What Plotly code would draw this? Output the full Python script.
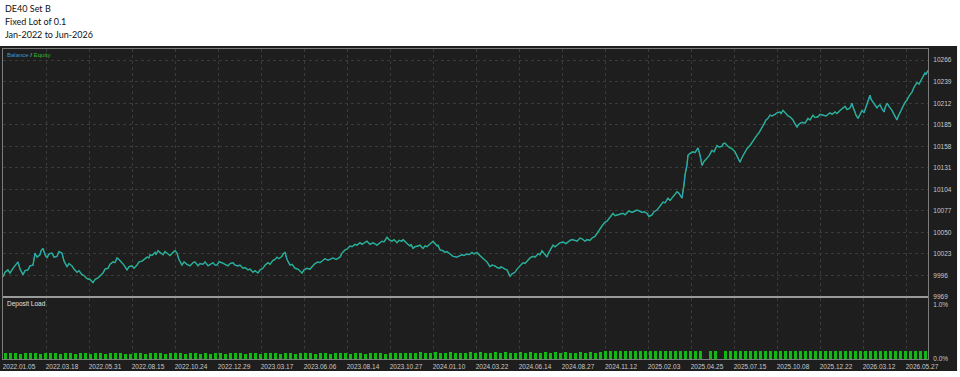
import plotly.graph_objects as go

# ---------------- data ----------------
title_lines = ["DE40 Set B", "Fixed Lot of 0.1", "Jan-2022 to Jun-2026"]

date_labels = ["2022.01.05", "2022.03.18", "2022.05.31", "2022.08.15", "2022.10.24",
               "2022.12.29", "2023.03.17", "2023.06.06", "2023.08.14", "2023.10.27",
               "2024.01.10", "2024.03.22", "2024.06.14", "2024.08.27", "2024.11.12",
               "2025.02.03", "2025.04.25", "2025.07.15", "2025.10.08", "2025.12.22",
               "2026.03.12", "2026.05.27"]
deals_per_label = 43
total_deals = 925

# (deal number, balance)
balance_by_deal = [
    (0, 9994), (2, 10000), (5, 10003), (7, 9999), (10, 10005), (12, 10008), (15, 10013), (17, 10004), (20, 9997), (22, 10002),
    (25, 10003), (27, 10008), (30, 10009), (32, 10024), (34, 10019), (37, 10022), (38, 10027), (40, 10030), (42, 10022), (44, 10018),
    (46, 10023), (49, 10024), (51, 10019), (54, 10020), (56, 10026), (59, 10024), (61, 10014), (64, 10007), (66, 10011), (69, 10008),
    (71, 10004), (74, 10000), (76, 10002), (79, 9997), (81, 9996), (84, 9992), (87, 9991), (90, 9987), (92, 9991), (95, 9993),
    (97, 9995), (100, 9999), (102, 10004), (105, 10005), (107, 10010), (110, 10013), (112, 10012), (114, 10018), (116, 10016), (119, 10012),
    (121, 10009), (124, 10003), (126, 10007), (129, 10008), (131, 10005), (134, 10009), (136, 10013), (139, 10014), (141, 10016), (144, 10019),
    (146, 10018), (147, 10022), (149, 10021), (152, 10025), (153, 10022), (155, 10027), (157, 10025), (160, 10022), (162, 10026), (165, 10023),
    (167, 10021), (170, 10025), (172, 10027), (174, 10024), (176, 10016), (179, 10009), (181, 10013), (184, 10010), (187, 10008), (190, 10012),
    (192, 10013), (195, 10008), (197, 10011), (200, 10010), (202, 10013), (205, 10008), (207, 10010), (210, 10012), (212, 10009), (214, 10009),
    (216, 10013), (219, 10012), (222, 10010), (225, 10008), (227, 10011), (230, 10012), (232, 10009), (235, 10008), (237, 10009), (240, 10005),
    (242, 10006), (245, 10003), (247, 10004), (250, 10000), (252, 10002), (255, 9999), (257, 10003), (260, 10005), (262, 10009), (265, 10012),
    (267, 10010), (270, 10015), (272, 10016), (274, 10019), (276, 10017), (279, 10020), (280, 10023), (282, 10025), (284, 10016), (287, 10009),
    (289, 10010), (292, 10005), (295, 10004), (299, 9999), (301, 10003), (304, 10005), (307, 10004), (310, 10008), (312, 10011), (315, 10013),
    (317, 10012), (320, 10015), (322, 10017), (325, 10015), (327, 10016), (330, 10018), (333, 10016), (337, 10019), (339, 10024), (342, 10028),
    (344, 10029), (347, 10033), (349, 10032), (352, 10035), (354, 10034), (357, 10037), (359, 10035), (362, 10038), (364, 10039), (367, 10035),
    (370, 10037), (374, 10034), (376, 10036), (379, 10039), (381, 10038), (384, 10044), (386, 10041), (389, 10039), (391, 10041), (394, 10037),
    (396, 10040), (399, 10039), (400, 10041), (402, 10038), (404, 10036), (407, 10033), (408, 10035), (410, 10030), (412, 10032), (415, 10033),
    (417, 10034), (420, 10030), (422, 10033), (424, 10032), (427, 10036), (430, 10039), (432, 10036), (434, 10033), (435, 10034), (437, 10028),
    (440, 10027), (442, 10025), (444, 10026), (447, 10023), (450, 10020), (454, 10019), (456, 10020), (459, 10022), (461, 10021), (464, 10023),
    (466, 10022), (469, 10025), (471, 10023), (474, 10025), (476, 10022), (479, 10019), (481, 10016), (484, 10013), (485, 10011), (487, 10007),
    (489, 10009), (492, 10008), (494, 10006), (497, 10005), (498, 10007), (500, 10005), (502, 10004), (504, 10003), (505, 10000), (507, 9995),
    (509, 9998), (512, 10000), (514, 10004), (517, 10008), (518, 10009), (520, 10012), (522, 10011), (525, 10015), (527, 10018), (530, 10020),
    (532, 10019), (535, 10023), (537, 10022), (539, 10027), (541, 10024), (544, 10019), (545, 10023), (547, 10028), (548, 10031), (550, 10034),
    (552, 10032), (555, 10035), (557, 10037), (560, 10038), (563, 10036), (567, 10040), (569, 10041), (572, 10040), (574, 10039), (577, 10043),
    (579, 10042), (582, 10039), (584, 10041), (587, 10040), (589, 10043), (592, 10045), (594, 10049), (597, 10055), (599, 10058), (602, 10063),
    (604, 10064), (607, 10069), (608, 10071), (610, 10074), (612, 10071), (615, 10072), (617, 10073), (620, 10074), (622, 10072), (624, 10075),
    (626, 10077), (629, 10075), (631, 10076), (634, 10078), (636, 10077), (639, 10075), (641, 10076), (644, 10074), (646, 10070), (649, 10072),
    (651, 10076), (654, 10078), (657, 10083), (660, 10088), (662, 10087), (665, 10093), (667, 10090), (670, 10095), (672, 10098), (674, 10101),
    (676, 10099), (677, 10097), (679, 10093), (681, 10110), (682, 10122), (684, 10135), (685, 10147), (687, 10149), (690, 10151), (692, 10150),
    (695, 10156), (697, 10147), (699, 10134), (701, 10139), (704, 10143), (706, 10146), (709, 10153), (711, 10151), (714, 10159), (716, 10157),
    (719, 10158), (720, 10161), (722, 10162), (724, 10159), (727, 10156), (729, 10155), (732, 10151), (734, 10146), (737, 10138), (739, 10144),
    (742, 10151), (744, 10155), (747, 10159), (750, 10165), (754, 10172), (756, 10175), (759, 10181), (761, 10186), (763, 10191), (765, 10193),
    (767, 10197), (769, 10196), (772, 10198), (774, 10200), (777, 10201), (778, 10199), (780, 10203), (782, 10200), (785, 10196), (787, 10195),
    (790, 10191), (792, 10186), (794, 10182), (796, 10186), (799, 10188), (802, 10187), (805, 10193), (807, 10191), (810, 10197), (812, 10194),
    (815, 10195), (817, 10198), (820, 10197), (823, 10196), (827, 10200), (829, 10198), (832, 10201), (834, 10199), (837, 10203), (839, 10205),
    (842, 10208), (844, 10204), (847, 10206), (849, 10212), (850, 10207), (852, 10201), (853, 10197), (855, 10193), (857, 10199), (859, 10203),
    (861, 10200), (863, 10208), (865, 10214), (867, 10222), (868, 10217), (870, 10213), (872, 10209), (874, 10206), (875, 10208), (877, 10210),
    (879, 10205), (881, 10201), (882, 10206), (884, 10212), (886, 10208), (889, 10203), (891, 10198), (894, 10191), (895, 10195), (897, 10200),
    (899, 10206), (901, 10210), (902, 10213), (904, 10216), (906, 10221), (909, 10226), (911, 10232), (914, 10238), (916, 10236), (919, 10243),
    (920, 10246), (922, 10250), (923, 10248), (925, 10253),
]
deal_no = [d for d, _ in balance_by_deal]
balance = [v for _, v in balance_by_deal]
equity = list(balance)  # equity is indistinguishable from balance at this scale

deposit_load = [
    0.11, 0.12, 0.11, 0.10, 0.12, 0.11, 0.12, 0.10, 0.11, 0.12, 0.11, 0.10, 0.12, 0.11, 0.09, 0.11, 0.12, 0.10, 0.11, 0.12,
    0.10, 0.11, 0.12, 0.11, 0.10, 0.09, 0.11, 0.12, 0.10, 0.11, 0.12, 0.11, 0.10, 0.11, 0.12, 0.11, 0.10, 0.12, 0.11, 0.10,
    0.11, 0.10, 0.12, 0.11, 0.10, 0.11, 0.12, 0.11, 0.10, 0.11, 0.12, 0.10, 0.11, 0.12, 0.11, 0.10, 0.11, 0.12, 0.10, 0.11,
    0.12, 0.11, 0.10, 0.12, 0.11, 0.10, 0.11, 0.12, 0.11, 0.10, 0.11, 0.12, 0.10, 0.11, 0.12, 0.11, 0.10, 0.11, 0.12, 0.11,
    0.12, 0.11, 0.12, 0.13, 0.12, 0.11, 0.13, 0.12, 0.12, 0.13, 0.12, 0.11, 0.12, 0.13, 0.12, 0.13, 0.12, 0.11, 0.13, 0.12,
    0.13, 0.12, 0.12, 0.13, 0.12, 0.13, 0.12, 0.12, 0.13, 0.12, 0.13, 0.12, 0.13, 0.12, 0.12, 0.13, 0.12, 0.13, 0.12, 0.13,
    0.14, 0.15, 0.14, 0.15, 0.14, 0.15, 0.15, 0.14, 0.15, 0.14, 0.15, 0.14, 0.15, 0.15, 0.14, 0.15, 0.14, 0.15, 0.14, 0.15,
    0.00, 0.15, 0.14, 0.00, 0.15, 0.14, 0.15, 0.15, 0.14, 0.15, 0.14, 0.15, 0.15, 0.14, 0.15, 0.14, 0.15, 0.14, 0.15, 0.15,
    0.15, 0.14, 0.15, 0.15, 0.14, 0.15, 0.14, 0.15, 0.15, 0.14, 0.15, 0.14, 0.15, 0.15, 0.14, 0.15, 0.14, 0.15, 0.15, 0.14,
    0.15, 0.14, 0.15, 0.14, 0.15]

y_ticks_main = [9969, 9996, 10023, 10050, 10077, 10104, 10131, 10158, 10185, 10212, 10239, 10266]
y_range_main = [9969, 10280]
load_ticks = [0.0, 1.0]
load_ticktext = ["0.0%", "1.0%"]
load_range = [0, 1.12]

# ---------------- styling ----------------
BG = "#1e1e1e"
GRID = "#3a3a3a"
FRAME = "#7c7c7c"
TXT = "#c8c8c8"
BAL_C = "#3399dd"
EQ_C = "#1fbf4f"
BAR_C = "#12b812"
FONT = "Liberation Sans"

bin_w = total_deals / len(deposit_load)
bar_x = [(i + 0.5) * bin_w for i in range(len(deposit_load))]
tick_pos = [i * deals_per_label for i in range(len(date_labels))]

fig = go.Figure()
fig.add_trace(go.Scatter(x=deal_no, y=equity, mode="lines", line=dict(color=EQ_C, width=1.4),
                         xaxis="x", yaxis="y", showlegend=False, hoverinfo="skip"))
fig.add_trace(go.Scatter(x=deal_no, y=balance, mode="lines", line=dict(color=BAL_C, width=0.9),
                         xaxis="x", yaxis="y", showlegend=False))
fig.add_trace(go.Bar(x=bar_x, y=deposit_load, marker=dict(color=BAR_C, line=dict(width=0)),
                     width=bin_w * 0.72, xaxis="x2", yaxis="y2", showlegend=False))

axis_common = dict(showline=True, mirror=True, linecolor=FRAME, linewidth=1, zeroline=False,
                   ticks="", gridcolor=GRID, griddash="dot", gridwidth=1)

fig.update_layout(
    width=960, height=377,
    margin=dict(l=3, r=32, t=49, b=18, pad=0),
    paper_bgcolor="white", plot_bgcolor=BG,
    font=dict(family=FONT, size=7, color=TXT),
    bargap=0,
    xaxis=dict(domain=[0, 1], range=[0, total_deals], anchor="y", tickvals=tick_pos,
               showticklabels=False, showgrid=True, **axis_common),
    yaxis=dict(domain=[0.2, 1], range=y_range_main, side="right", anchor="x", tickvals=y_ticks_main,
               tickformat="d", tickfont=dict(size=6.5, color=TXT, family=FONT), ticklabelstandoff=3,
               showgrid=True, **axis_common),
    xaxis2=dict(domain=[0, 1], range=[0, total_deals], anchor="y2", matches="x", tickvals=tick_pos,
                ticktext=date_labels, tickfont=dict(size=6.5, color=TXT, family=FONT),
                ticklabelshift=16, ticklabelstandoff=1, showgrid=True, **axis_common),
    yaxis2=dict(domain=[0, 0.197], range=load_range, side="right", anchor="x2", tickvals=load_ticks,
                ticktext=load_ticktext, tickfont=dict(size=6.5, color=TXT, family=FONT),
                ticklabelstandoff=3, showgrid=False, **axis_common),
)

# dark chart body behind everything
fig.add_shape(type="rect", xref="paper", yref="paper", x0=-0.0033, x1=1.0314, y0=-0.0387, y1=1.0097,
              fillcolor=BG, line=dict(width=0), layer="below")
# panel separator
fig.add_shape(type="line", xref="paper", yref="paper", x0=0, x1=1, y0=0.2, y1=0.2,
              line=dict(color="#9a9a9a", width=2))

annos = []
for i, t in enumerate(title_lines):
    annos.append(dict(text=t, xref="paper", yref="paper", x=0.0, y=1.132 - i * 0.042,
                      xanchor="left", yanchor="middle", showarrow=False,
                      font=dict(family="Lato", size=9, color="#111111")))
annos.append(dict(text=f"<span style='color:{BAL_C}'>Balance</span> / <span style='color:#2db82d'>Equity</span>",
                  xref="paper", yref="paper", x=0.002, y=0.981, xanchor="left", yanchor="middle",
                  showarrow=False, font=dict(family=FONT, size=6, color=TXT)))
annos.append(dict(text="Deposit Load", xref="paper", yref="paper", x=0.002, y=0.177,
                  xanchor="left", yanchor="middle", showarrow=False,
                  font=dict(family=FONT, size=6.5, color="#e0e0e0")))
fig.update_layout(annotations=annos)

fig.write_html("out.html")
